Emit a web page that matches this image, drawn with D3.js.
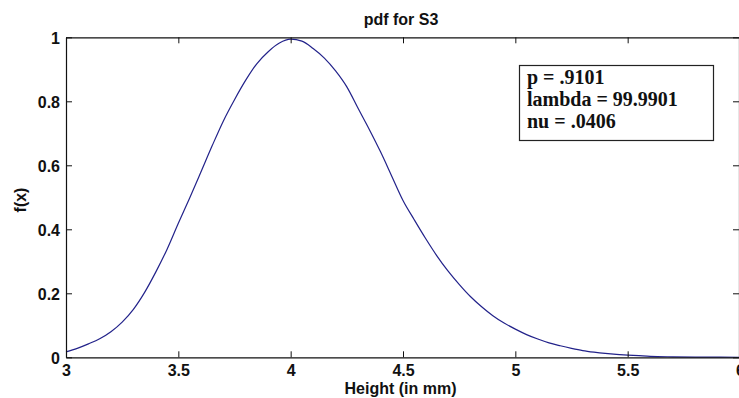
<!DOCTYPE html>
<html>
<head>
<meta charset="utf-8">
<script src="https://cdn.jsdelivr.net/npm/d3@7"></script>
<style>
  html, body { margin: 0; padding: 0; background: #ffffff; overflow: hidden; }
  svg { display: block; }
</style>
</head>
<body>
<svg id="chart" width="739" height="398"></svg>
<script>
// ---- data ----
const xValues = [3.00,3.05,3.10,3.15,3.20,3.25,3.30,3.35,3.40,3.45,3.50,3.55,3.60,3.65,3.70,3.75,3.80,3.85,3.90,3.95,
                 4.00,4.05,4.10,4.15,4.20,4.25,4.30,4.35,4.40,4.45,4.50,4.55,4.60,4.65,4.70,4.75,4.80,4.85,4.90,4.95,
                 5.00,5.05,5.10,5.15,5.20,5.25,5.30,5.35,5.40,5.45,5.50,5.55,5.60,5.70,5.80,5.90,6.00];
const yValues = [0.017,0.028,0.042,0.058,0.080,0.110,0.150,0.203,0.267,0.338,0.419,0.497,0.578,0.660,0.738,0.805,0.866,0.918,0.955,0.982,
                 0.994,0.988,0.965,0.935,0.895,0.845,0.778,0.712,0.642,0.566,0.490,0.430,0.372,0.318,0.270,0.228,0.190,0.158,0.130,0.107,
                 0.088,0.071,0.057,0.045,0.036,0.028,0.021,0.016,0.012,0.009,0.007,0.005,0.003,0.0015,0.0007,0.0003,0.0001];
const xTicks = [3, 3.5, 4, 4.5, 5, 5.5, 6];
const xTickLabels = ["3", "3.5", "4", "4.5", "5", "5.5", "6"];
const yTicks = [0, 0.2, 0.4, 0.6, 0.8, 1];
const yTickLabels = ["0", "0.2", "0.4", "0.6", "0.8", "1"];
const titleText = "pdf for S3";
const xLabelText = "Height (in mm)";
const yLabelText = "f(x)";
const legendLines = ["p = .9101", "lambda = 99.9901", "nu = .0406"];

// ---- layout ----
const svg = d3.select("#chart");
const plotLeft = 66, plotRight = 740, plotTop = 37.3, plotBottom = 357.3;
const x = d3.scaleLinear().domain([3, 6]).range([plotLeft, plotRight]);
const y = d3.scaleLinear().domain([0, 1]).range([plotBottom, plotTop]);
const sans = "'Liberation Sans', Arial, Helvetica, sans-serif";
const serif = "'Liberation Serif', 'Times New Roman', serif";
const axisColor = "#111";
const tickLen = 6;

// curve
const line = d3.line().curve(d3.curveMonotoneX).x((d, i) => x(xValues[i])).y(d => y(d));
svg.append("path")
  .datum(yValues)
  .attr("d", line)
  .attr("fill", "none")
  .attr("stroke", "#22228a")
  .attr("stroke-width", 1.2);

// axes: bottom (ticks inward), top, left, right
const gB = svg.append("g").attr("transform", `translate(0,${plotBottom})`)
  .call(d3.axisBottom(x).tickValues(xTicks).tickSizeInner(-tickLen).tickSizeOuter(0)
        .tickFormat((d, i) => xTickLabels[i]).tickPadding(8));
const gT = svg.append("g").attr("transform", `translate(0,${plotTop})`)
  .call(d3.axisTop(x).tickValues(xTicks).tickSizeInner(-tickLen).tickSizeOuter(0).tickFormat(""));
const gL = svg.append("g").attr("transform", `translate(${plotLeft},0)`)
  .call(d3.axisLeft(y).tickValues(yTicks).tickSizeInner(-tickLen).tickSizeOuter(0)
        .tickFormat((d, i) => yTickLabels[i]).tickPadding(6));
const gR = svg.append("g").attr("transform", `translate(${plotRight - 1},0)`)
  .call(d3.axisRight(y).tickValues(yTicks).tickSizeInner(-tickLen).tickSizeOuter(0).tickFormat(""));

[gB, gT, gL, gR].forEach(g => {
  g.select(".domain").attr("stroke", axisColor).attr("stroke-width", 1.2);
  g.selectAll(".tick line").attr("stroke", axisColor).attr("stroke-width", 1);
  g.selectAll("text").attr("fill", "#111").style("font-family", sans)
    .style("font-weight", "bold").style("font-size", "16px");
});
gB.selectAll(".tick text").attr("dy", "0.71em").attr("y", 7);
gL.selectAll(".tick text").attr("dy", "0.36em").attr("x", -6);

// title
svg.append("text").attr("x", 401).attr("y", 25).attr("text-anchor", "middle")
  .style("font-family", sans).style("font-weight", "bold").style("font-size", "16px")
  .attr("fill", "#111").text(titleText);
// x label
svg.append("text").attr("x", 400.5).attr("y", 394).attr("text-anchor", "middle")
  .style("font-family", sans).style("font-weight", "bold").style("font-size", "16px")
  .attr("fill", "#111").text(xLabelText);
// y label
svg.append("text").attr("transform", "translate(26,200) rotate(-90)").attr("text-anchor", "middle")
  .style("font-family", sans).style("font-weight", "bold").style("font-size", "16px")
  .attr("fill", "#111").text(yLabelText);

// legend box
svg.append("rect").attr("x", 519.5).attr("y", 65.5).attr("width", 194).attr("height", 75)
  .attr("fill", "#fff").attr("stroke", "#222").attr("stroke-width", 1.2);
svg.selectAll(".leg").data(legendLines).join("text")
  .attr("class", "leg")
  .attr("x", 527).attr("y", (d, i) => 83.5 + i * 22.2)
  .style("font-family", serif).style("font-weight", "bold").style("font-size", "20px")
  .attr("fill", "#111").text(d => d);
</script>
</body>
</html>
